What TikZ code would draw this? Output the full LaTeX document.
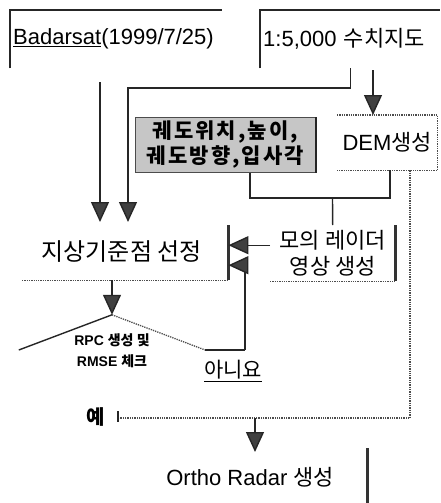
\documentclass[tikz,border=0pt]{standalone}
\usepackage{fontspec}
\setmainfont{Liberation Sans}
\newfontfamily\kr{Noto Sans CJK KR}
\newfontfamily\krw{Noto Sans CJK KR}[LetterSpace=10]
\newcommand\hg[1]{{\kr #1}}
\usetikzlibrary{arrows.meta,shapes.geometric}
\begin{document}
\begin{tikzpicture}[x=1pt,y=-1pt,
  ln/.style={line width=1.4pt, draw=black!85},
  heavy/.style={line width=3pt, draw=black!80},
  dotl/.style={line width=1.3pt, draw=black!70, densely dotted},
  arr/.style={ln, -{Triangle[width=18pt,length=20pt,fill=black!75]}},
  big/.style={font=\fontsize{22}{26}\selectfont, inner sep=0pt},
]
\useasboundingbox (0,0) rectangle (440,503);

% top boxes
\node[big, minimum width=212pt, minimum height=58pt, text width=206pt, align=left, anchor=north west] (bad) at (10,10) {\underline{Badarsat}(1999/7/25)};
\node[big, minimum width=180pt, minimum height=58pt, text width=174pt, align=left, anchor=north west] (map) at (260,10) {1:5,000 \hg{수치지도}};
\draw[ln] (bad.south west) -- (bad.north west) -- (bad.north east);
\draw[ln] (map.south west) -- (map.north west) -- (map.north east);

% orbit parameter box and DEM
\node[inner sep=0pt, fill=gray!45, draw=black!70, line width=0.8pt, minimum width=180pt, minimum height=55pt, anchor=north west, align=center, font=\fontsize{21}{25}\selectfont\krw\bfseries] (orb) at (135,117) {궤도위치,높이,\\궤도방향,입사각};
\draw[line width=2pt, draw=black!85] (orb.north east) -- (orb.south east);
\node[big, minimum width=100pt, minimum height=55pt, anchor=north west] (dem) at (337,115) {DEM\hg{생성}};
\draw[dotl] (dem.north west) -- (dem.north east) -- (dem.south east) -- (dem.south west);

% simulated radar image and GCP selection
\node[big, minimum width=125pt, minimum height=56pt, anchor=north west, align=center] (sim) at (270,225) {\hg{모의 레이더}\\\hg{영상 생성}};
\draw[heavy] (sim.north east) -- (sim.south east);
\draw[dotl] (sim.south west) -- (sim.south east);
\node[inner sep=0pt, minimum width=213pt, minimum height=58pt, anchor=north west, font=\fontsize{24}{28}\selectfont] (gcp) at (15,222) {\hg{지상기준점 선정}};
\draw[heavy] ([yshift=-3pt]gcp.north east) -- (gcp.south east);
\draw[dotl] ([xshift=7pt]gcp.south west) -- (gcp.south east);

% decision
\node[diamond, minimum width=186pt, minimum height=70pt, aspect=2.66, inner sep=0pt] (dia) at (112,350) {};
\draw[ln] (dia.north) -- (dia.west);
\draw[dotl] (dia.north) -- (dia.east);
\node[inner sep=0pt, align=center, font=\fontsize{14}{21}\selectfont\bfseries] (rpc) at (112,351) {RPC \hg{생성 및}\\RMSE \hg{체크}};
\node[inner sep=0pt, font=\fontsize{21}{25}\selectfont] (no) at (233,371) {\underline{\hg{아니요}}};
\node[inner sep=0pt, font=\fontsize{20}{24}\selectfont\bfseries] (yes) at (96,417) {\hg{예}};

% output
\node[big, minimum width=234pt, minimum height=51pt, anchor=north west] (ortho) at (133,452) {Ortho Radar \hg{생성}};
\draw[heavy] ([yshift=4pt]ortho.north east) -- (ortho.south east);

% junction coordinates
\coordinate (jg) at (128,88);
\coordinate (ja) at (250,198);
\coordinate (jb) at (390,198);
\coordinate (jc) at (332.5,198);
\coordinate (jd) at (410,418);
\coordinate (je) at (118,418);
\coordinate (jf) at (255,418);
\coordinate (lp) at (245,350);

% connectors
\draw[arr] ([xshift=90pt,yshift=-14pt]bad.south west) -- ([xshift=85pt]gcp.north west);
\draw[arr] (map.south) |- (jg) -- ([xshift=113pt]gcp.north west);
\draw[arr] ([xshift=113pt,yshift=-2pt]map.south west) -- ([xshift=36pt]dem.north west);
\draw[ln] ([xshift=115pt]orb.south west) -- (ja) -- (jb) -- ([xshift=53pt]dem.south west);
\draw[ln] (jc) -- (sim.north);
\draw[arr] ([yshift=8pt]sim.west) -- ([yshift=6pt]gcp.east);
\draw[arr] ([xshift=97pt]gcp.south west) -- (dia.north);
\draw[ln] (dia.east) -- (lp);
\draw[arr] (lp) |- ([yshift=-14pt]gcp.east);
\draw[dotl] ([xshift=73pt]dem.south west) -- (jd) -- (je);
\draw[ln] ([yshift=7pt]je) -- ([yshift=-4pt]je);
\draw[arr] (jf) -- ([xshift=122pt]ortho.north west);
\end{tikzpicture}
\end{document}
